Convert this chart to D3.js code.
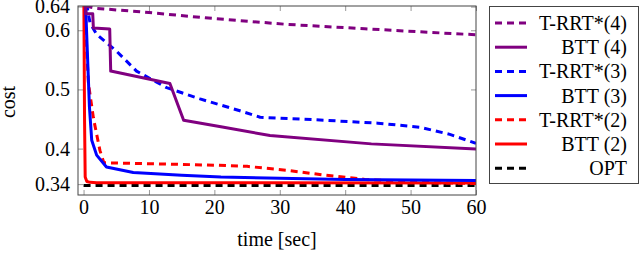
<!DOCTYPE html>
<html>
<head>
<meta charset="utf-8">
<script src="https://cdn.jsdelivr.net/npm/d3@7"></script>
<style>
  body { margin: 0; background: white; }
</style>
</head>
<body>
<div id="chart"></div>
<script>
const width = 640;
const height = 254;

// time [sec], cost pairs
const trrt4 = [[0.3, 0.641], [2, 0.637], [10, 0.63], [18.6, 0.621], [31, 0.61], [43, 0.6025], [57, 0.594], [60, 0.5925]];
const btt4 = [[0.2, 0.645], [0.4, 0.628], [1.4, 0.628], [1.5, 0.604], [4.0, 0.602], [4.15, 0.531], [13.2, 0.51], [15.3, 0.448], [21, 0.437], [28.5, 0.422], [44, 0.408], [60, 0.3995]];
const trrt3 = [[0.45, 0.645], [1.0, 0.612], [2.0, 0.593], [5.1, 0.564], [8.1, 0.531], [12.7, 0.503], [17.8, 0.484], [23.9, 0.464], [27, 0.453], [35, 0.449], [45, 0.443], [51.5, 0.436], [56, 0.424], [60, 0.409]];
const btt3 = [[0.3, 0.645], [0.9, 0.47], [1.25, 0.414], [2.0, 0.389], [3.5, 0.369], [7.6, 0.3596], [15, 0.355], [21, 0.352], [30, 0.35], [40, 0.348], [50, 0.347], [60, 0.346]];
const trrt2 = [[0.25, 0.645], [0.5, 0.56], [0.75, 0.51], [1.5, 0.452], [2.5, 0.397], [3.1, 0.376], [10, 0.3745], [20, 0.372], [25, 0.37], [31, 0.3635], [37, 0.355], [43, 0.348], [49, 0.344], [55, 0.342], [60, 0.341]];
const btt2 = [[0.05, 0.645], [0.15, 0.45], [0.25, 0.352], [0.5, 0.3445], [1, 0.343], [2, 0.3425], [10, 0.3422], [60, 0.342]];
const opt = [[0, 0.3375], [60, 0.3375]];

const xTicks = [0, 10, 20, 30, 40, 50, 60];
const yTicks = [0.34, 0.4, 0.5, 0.6, 0.64];

const series = [
  { name: "T-RRT*(4)", data: trrt4, color: "#800080", dash: "7,5" },
  { name: "BTT (4)", data: btt4, color: "#800080", dash: null },
  { name: "T-RRT*(3)", data: trrt3, color: "#0000ff", dash: "7,5" },
  { name: "BTT (3)", data: btt3, color: "#0000ff", dash: null },
  { name: "T-RRT*(2)", data: trrt2, color: "#ff0000", dash: "7,5" },
  { name: "BTT (2)", data: btt2, color: "#ff0000", dash: null },
  { name: "OPT", data: opt, color: "#000000", dash: "7,5" }
];

const plot = { left: 78, right: 476, top: 6, bottom: 195 };
const fontFamily = "'Times New Roman', Tinos, serif";
const fontSize = "20px";

const x = d3.scaleLinear().domain([-0.85, 60]).range([plot.left, plot.right]);
const y = d3.scaleLinear().domain([0.3216, 0.641]).range([plot.bottom, plot.top]);

const svg = d3.select("#chart")
  .append("svg")
  .attr("width", width)
  .attr("height", height);

svg.append("defs").append("clipPath")
  .attr("id", "clip")
  .append("rect")
  .attr("x", plot.left)
  .attr("y", plot.top)
  .attr("width", plot.right - plot.left)
  .attr("height", plot.bottom - plot.top);

// Axes, ticks pointing inward
const tickColor = "#999";
function styleAxis(g, showLabels) {
  g.attr("font-family", null);
  g.select(".domain").remove();
  g.selectAll(".tick line").attr("stroke", tickColor);
  g.selectAll(".tick text")
    .attr("fill", "#000")
    .style("font-family", fontFamily)
    .style("font-size", fontSize);
  if (!showLabels) g.selectAll(".tick text").remove();
}

svg.append("g")
  .attr("transform", `translate(0,${plot.bottom})`)
  .call(d3.axisBottom(x).tickValues(xTicks).tickSize(-5).tickPadding(5).tickFormat(d3.format("d")))
  .call(g => styleAxis(g, true));

svg.append("g")
  .attr("transform", `translate(0,${plot.top})`)
  .call(d3.axisTop(x).tickValues(xTicks).tickSize(-5))
  .call(g => styleAxis(g, false));

svg.append("g")
  .attr("transform", `translate(${plot.left},0)`)
  .call(d3.axisLeft(y).tickValues(yTicks).tickSize(-5).tickPadding(8).tickFormat(d => String(d)))
  .call(g => styleAxis(g, true));

svg.append("g")
  .attr("transform", `translate(${plot.right},0)`)
  .call(d3.axisRight(y).tickValues(yTicks).tickSize(-5))
  .call(g => styleAxis(g, false));

// Lines
const line = d3.line()
  .x(d => x(d[0]))
  .y(d => y(d[1]));

const lines = svg.append("g").attr("clip-path", "url(#clip)");

lines.selectAll("path.series")
  .data(series.slice().reverse())
  .enter()
  .append("path")
  .attr("class", "series")
  .attr("d", d => line(d.data))
  .attr("fill", "none")
  .attr("stroke", d => d.color)
  .attr("stroke-width", 3)
  .attr("stroke-linejoin", "round")
  .attr("stroke-dasharray", d => d.dash);

// Frame
svg.append("rect")
  .attr("x", plot.left)
  .attr("y", plot.top)
  .attr("width", plot.right - plot.left)
  .attr("height", plot.bottom - plot.top)
  .attr("fill", "none")
  .attr("stroke", "#444")
  .attr("stroke-width", 1);

// Axis labels
svg.append("text")
  .attr("x", (plot.left + plot.right) / 2)
  .attr("y", 246)
  .attr("text-anchor", "middle")
  .style("font-family", fontFamily)
  .style("font-size", fontSize)
  .text("time [sec]");

svg.append("text")
  .attr("transform", `translate(15,102) rotate(-90)`)
  .attr("text-anchor", "middle")
  .style("font-family", fontFamily)
  .style("font-size", fontSize)
  .text("cost");

// Legend
const legend = svg.append("g");
legend.append("rect")
  .attr("x", 489.5)
  .attr("y", 6.5)
  .attr("width", 149)
  .attr("height", 177)
  .attr("fill", "white")
  .attr("stroke", "#444")
  .attr("stroke-width", 1);

const entries = legend.selectAll("g.entry")
  .data(series)
  .enter()
  .append("g")
  .attr("class", "entry")
  .attr("transform", (d, i) => `translate(0,${23 + i * 24.2})`);

entries.append("line")
  .attr("x1", 495)
  .attr("x2", 527)
  .attr("stroke", d => d.color)
  .attr("stroke-width", 3)
  .attr("stroke-dasharray", d => d.dash);

entries.append("text")
  .attr("x", 627)
  .attr("dy", "0.35em")
  .attr("text-anchor", "end")
  .style("font-family", fontFamily)
  .style("font-size", fontSize)
  .text(d => d.name);
</script>
</body>
</html>
